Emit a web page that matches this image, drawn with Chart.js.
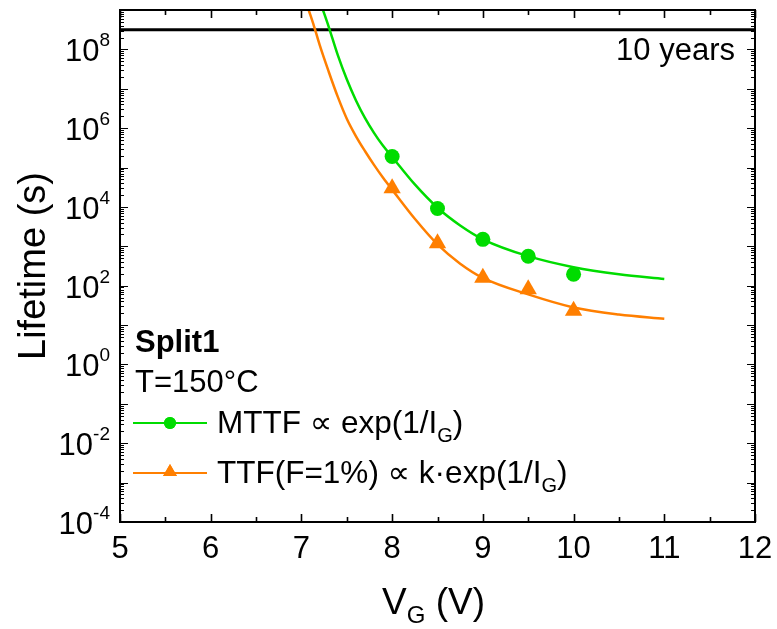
<!DOCTYPE html>
<html>
<head>
<meta charset="utf-8">
<title>Lifetime vs VG</title>
<script src="https://cdn.jsdelivr.net/npm/chart.js@4.4.1/dist/chart.umd.min.js"></script>
<style>
  html, body { margin: 0; padding: 0; background: #fff; }
  canvas { display: block; }
</style>
</head>
<body>
<canvas id="lifetimeChart" width="777" height="629"></canvas>
<script>
// measured points
const vgPoints = [8, 8.5, 9, 9.5, 10];
const mttfPoints = [1.9e5, 9.1e3, 1.5e3, 5.6e2, 1.95e2];
const ttfPoints = [3.0e4, 1.2e3, 1.6e2, 81, 23];

// fitted curves
const vgFitMttf = [7.23, 7.3, 7.4, 7.5, 7.6, 7.7, 7.8, 7.9, 8.0, 8.25, 8.5, 8.75, 9.0, 9.5, 10.0, 10.5, 11.0];
const mttfFit = [1.12e9, 3.8e8, 7.24e7, 1.74e7, 5.13e6, 1.82e6, 7.59e5, 3.55e5, 1.86e5,
  3.72e4, 9.55e3, 3.39e3, 1.51e3, 562, 295, 195, 148];
const vgFitTtf = [7.08, 7.14, 7.2, 7.3, 7.4, 7.5, 7.6, 7.7, 7.8, 7.9, 8.0, 8.25, 8.5, 8.75, 9.0, 9.5, 10.0, 10.5, 11.0];
const ttfFit = [1.0e9, 3.8e8, 1.32e8, 2.75e7, 6.31e6, 1.74e6, 6.31e5, 2.63e5, 1.17e5, 5.5e4,
  2.75e4, 5.0e3, 1.12e3, 363, 158, 60, 28, 18.6, 14.5];

// 10 years in seconds
const tenYears = 3.1536e8;
const xRange = [5, 12];

const xTicks = [5, 6, 7, 8, 9, 10, 11, 12];
const yExponents = [-4, -3, -2, -1, 0, 1, 2, 3, 4, 5, 6, 7, 8];
const yLabelExponents = [-4, -2, 0, 2, 4, 6, 8];

const GREEN = '#00dc00';
const ORANGE = '#ff7f00';
const FONT = '"Liberation Sans", Arial, "DejaVu Sans", sans-serif';

const toXY = (xs, ys) => xs.map((x, i) => ({ x, y: ys[i] }));

// writes a run of text pieces, each with its own font and vertical offset
function drawScripted(ctx, parts, x, y) {
  let cx = x;
  parts.forEach(p => {
    ctx.font = p.font;
    ctx.fillText(p.text, cx, y + (p.dy || 0));
    cx += ctx.measureText(p.text).width;
  });
  return cx;
}

const axesPlugin = {
  id: 'axesPlugin',
  afterDatasetsDraw(chart) {
    const { ctx, chartArea: a, scales: { x, y } } = chart;
    ctx.save();
    ctx.strokeStyle = '#000';
    ctx.fillStyle = '#000';

    // ticks, pointing inward on all four sides
    ctx.lineWidth = 1.6;
    ctx.beginPath();
    xTicks.forEach(v => {
      [v, v + 0.5].forEach((t, k) => {
        if (t > xRange[1]) return;
        const px = Math.round(x.getPixelForValue(t)) + 0.5;
        const len = k === 0 ? 8 : 5;
        ctx.moveTo(px, a.bottom); ctx.lineTo(px, a.bottom - len);
        ctx.moveTo(px, a.top); ctx.lineTo(px, a.top + len);
      });
    });
    ctx.stroke();

    ctx.lineWidth = 1.2;
    ctx.beginPath();
    yExponents.concat([8]).forEach((e, idx) => {
      for (let m = 1; m < 10; m++) {
        if (idx === yExponents.length && m === 1) continue;
        const v = m * Math.pow(10, e);
        const py = Math.round(y.getPixelForValue(v)) + 0.5;
        if (py < a.top || py > a.bottom) continue;
        const len = m === 1 ? 8 : 4;
        ctx.moveTo(a.left, py); ctx.lineTo(a.left + len, py);
        ctx.moveTo(a.right, py); ctx.lineTo(a.right - len, py);
      }
    });
    ctx.stroke();

    // frame
    ctx.lineWidth = 2;
    ctx.strokeRect(a.left, a.top, a.right - a.left, a.bottom - a.top);

    // x tick labels
    ctx.font = '31px ' + FONT;
    ctx.textAlign = 'center';
    ctx.textBaseline = 'alphabetic';
    xTicks.forEach(v => {
      ctx.fillText(String(v), x.getPixelForValue(v), a.bottom + 36);
    });

    // y tick labels as powers of ten
    ctx.textAlign = 'left';
    yLabelExponents.forEach(e => {
      const py = y.getPixelForValue(Math.pow(10, e));
      ctx.font = '19px ' + FONT;
      const expW = ctx.measureText(String(e)).width;
      ctx.font = '31px ' + FONT;
      const baseW = ctx.measureText('10').width;
      const right = a.left - 10;
      ctx.fillText('10', right - expW - baseW, py + 12);
      ctx.font = '19px ' + FONT;
      ctx.fillText(String(e), right - expW, py - 3);
    });

    // axis titles
    ctx.font = '38px ' + FONT;
    ctx.textAlign = 'center';
    ctx.save();
    ctx.translate(45, (a.top + a.bottom) / 2);
    ctx.rotate(-Math.PI / 2);
    ctx.fillText('Lifetime (s)', 0, 0);
    ctx.restore();

    ctx.textAlign = 'left';
    drawScripted(ctx, [
      { text: 'V', font: '37px ' + FONT },
      { text: 'G', font: '24px ' + FONT, dy: 9 },
      { text: ' (V)', font: '37px ' + FONT },
    ], 382, 614);

    // annotations
    ctx.font = '31px ' + FONT;
    ctx.textAlign = 'right';
    ctx.fillText('10 years', a.right - 20, 60);
    ctx.textAlign = 'left';
    ctx.font = 'bold 31px ' + FONT;
    ctx.fillText('Split1', 135, 352);
    ctx.font = '31px ' + FONT;
    ctx.fillText('T=150\u00B0C', 135, 392);

    // legend
    const entries = [
      { color: GREEN, style: 'circle', radius: 6, y: 423,
        parts: ['MTTF \u221D exp(1/I', 'G', ')'] },
      { color: ORANGE, style: 'triangle', radius: 8, y: 473,
        parts: ['TTF(F=1%) \u221D k\u00B7exp(1/I', 'G', ')'] },
    ];
    entries.forEach(en => {
      ctx.strokeStyle = en.color;
      ctx.fillStyle = en.color;
      ctx.lineWidth = 2;
      ctx.beginPath();
      ctx.moveTo(133, en.y); ctx.lineTo(207, en.y);
      ctx.stroke();
      Chart.helpers.drawPoint(ctx, {
        pointStyle: en.style, radius: en.radius, rotation: 0, borderWidth: 0,
      }, 170, en.style === 'triangle' ? en.y - 1 : en.y);
      ctx.fill();
      ctx.fillStyle = '#000';
      drawScripted(ctx, [
        { text: en.parts[0], font: '31.5px ' + FONT },
        { text: en.parts[1], font: '20px ' + FONT, dy: 9 },
        { text: en.parts[2], font: '31.5px ' + FONT },
      ], 217, en.y + 10);
    });

    ctx.restore();
  },
};

const ctxLife = document.getElementById('lifetimeChart').getContext('2d');
new Chart(ctxLife, {
  type: 'line',
  data: {
    datasets: [
      {
        label: 'MTTF fit',
        data: toXY(vgFitMttf, mttfFit),
        borderColor: GREEN,
        borderWidth: 2.5,
        pointRadius: 0,
        cubicInterpolationMode: 'monotone',
      },
      {
        label: 'TTF fit',
        data: toXY(vgFitTtf, ttfFit),
        borderColor: ORANGE,
        borderWidth: 2.5,
        pointRadius: 0,
        cubicInterpolationMode: 'monotone',
      },
      {
        label: 'MTTF',
        data: toXY(vgPoints, mttfPoints),
        showLine: false,
        pointStyle: 'circle',
        pointRadius: 7.5,
        pointBorderWidth: 0,
        pointBackgroundColor: GREEN,
      },
      {
        label: 'TTF(F=1%)',
        data: toXY(vgPoints, ttfPoints),
        showLine: false,
        pointStyle: 'triangle',
        pointRadius: 10,
        pointBorderWidth: 0,
        pointBackgroundColor: ORANGE,
      },
      {
        label: '10 years',
        data: toXY(xRange, [tenYears, tenYears]),
        borderColor: '#000',
        borderWidth: 3,
        pointRadius: 0,
      },
    ],
  },
  options: {
    responsive: false,
    devicePixelRatio: 1,
    animation: false,
    layout: { padding: { top: 7, right: 22, left: 0, bottom: 0 } },
    plugins: {
      legend: { display: false },
      tooltip: { enabled: false },
    },
    scales: {
      x: {
        type: 'linear',
        min: xRange[0],
        max: xRange[1],
        grid: { display: false },
        border: { display: false },
        ticks: { display: false },
        afterFit: scale => { scale.height = 107; },
      },
      y: {
        type: 'logarithmic',
        min: 1e-4,
        max: 1e9,
        grid: { display: false },
        border: { display: false },
        ticks: { display: false },
        afterFit: scale => { scale.width = 120; },
      },
    },
  },
  plugins: [axesPlugin],
});
</script>
</body>
</html>
